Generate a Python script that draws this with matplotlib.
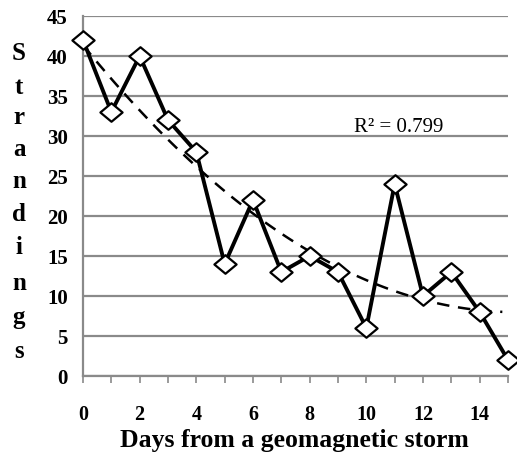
import matplotlib
matplotlib.use("Agg")
import matplotlib.pyplot as plt
from matplotlib.path import Path
import numpy as np

days = list(range(16))
strandings = [42, 33, 40, 32, 28, 14, 22, 13, 15, 13, 6, 24, 10, 13, 8, 2]
xticks = [0, 2, 4, 6, 8, 10, 12, 14]
yticks = [0, 5, 10, 15, 20, 25, 30, 35, 40, 45]
ylabel_letters = list("Strandings")
xlabel = "Days from a geomagnetic storm"
r2_text = "R² = 0.799"

serif = ["Liberation Serif", "DejaVu Serif"]
plt.rcParams["font.family"] = serif

fig = plt.figure(figsize=(5.17, 4.64), dpi=100)
ax = fig.add_axes([83/517, 1-377/464, (508-83)/517, (377-17)/464])

ax.set_xlim(0, 15)
ax.set_ylim(0, 45)
ax.set_yticks(yticks)
ax.set_xticks(xticks)
ax.set_xticks(days, minor=True)
ax.yaxis.grid(True, color="#8a8a8a", linewidth=1.6)
ax.set_axisbelow(True)
for s in ["top", "right"]:
    ax.spines[s].set_visible(False)
for s in ["left", "bottom"]:
    ax.spines[s].set_color("#8a8a8a")
    ax.spines[s].set_linewidth(1.6)
ax.tick_params(axis="x", which="both", direction="out", length=5, color="#8a8a8a",
               width=1.2, pad=15)
ax.tick_params(axis="y", length=0, pad=11, labelsize=15)
ax.set_xticklabels([str(t) for t in xticks], fontsize=14.5, fontweight="bold")
ax.set_yticklabels([str(t) for t in yticks], fontsize=15, fontweight="bold")

# polynomial (2nd order) trend line
x = np.array(days, dtype=float)
y = np.array(strandings, dtype=float)
coef = np.polyfit(x, y, 2)
xs = np.linspace(0, 14.8, 100)
ax.plot(xs, np.polyval(coef, xs), color="black", linestyle=(0, (5, 3.5)),
        linewidth=1.8, zorder=2)

diamond = Path([(-1.2, 0), (0, 1), (1.2, 0), (0, -1), (-1.2, 0)],
               [Path.MOVETO, Path.LINETO, Path.LINETO, Path.LINETO, Path.CLOSEPOLY])
ax.plot(days, strandings, color="black", linewidth=2.8, marker=diamond, markersize=16,
        markerfacecolor="white", markeredgecolor="black", markeredgewidth=1.6,
        zorder=3, clip_on=False)

ax.text(11.15, 31.2, r2_text, fontsize=15, ha="center", va="center")

fig.text(294/517, 1 - 441/464, xlabel, fontsize=18.5,
         fontweight="bold", ha="center", va="center")
ys = [54, 87, 118, 150, 182, 215, 248, 283, 318, 352]
for ch, yy in zip(ylabel_letters, ys):
    fig.text(19/517, 1 - yy/464, ch, fontsize=18, fontweight="bold",
             ha="center", va="center")

fig.savefig("out.png", dpi=100)
